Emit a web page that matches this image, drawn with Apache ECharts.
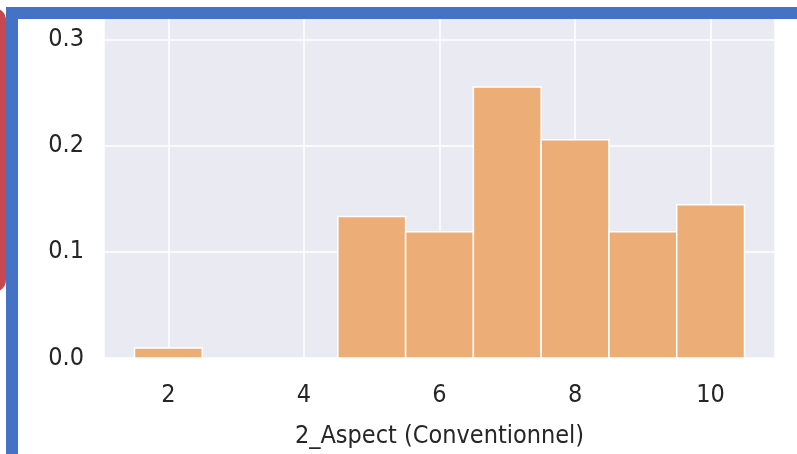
<!DOCTYPE html>
<html>
<head>
<meta charset="utf-8">
<script src="https://cdn.jsdelivr.net/npm/echarts@6/dist/echarts.min.js"></script>
<style>
html,body{margin:0;padding:0;background:#fff;}
#c{width:797px;height:454px;}
</style>
</head>
<body>
<div id="c"></div>
<script>
// Histogram data (bin centers and density heights)
var binCenters = [2, 3, 4, 5, 6, 7, 8, 9, 10];
var densities = [0.0095, 0, 0, 0.1335, 0.119, 0.2555, 0.2057, 0.119, 0.1445];
var binWidth = 1;
var yTicks = [0.0, 0.1, 0.2, 0.3];
var xTicks = [2, 4, 6, 8, 10];
var xLabel = '2_Aspect (Conventionnel)';

var FONT = '"Liberation Sans Narrow", "DejaVu Sans Condensed", "Liberation Sans", sans-serif';

var data = binCenters.map(function (c, i) { return [c, densities[i]]; });

var chart = echarts.init(document.getElementById('c'), null, {renderer: 'canvas'});
chart.setOption({
  backgroundColor: '#ffffff',
  animation: false,
  grid: {left: 104, right: 22, top: 8, bottom: 96, show: true, backgroundColor: '#EAEAF2', borderWidth: 0,
         containLabel: false, outerBoundsMode: 'none'},
  xAxis: {
    type: 'value', min: 1.05, max: 10.95, splitNumber: 5,
    axisLine: {show: false}, axisTick: {show: false},
    splitLine: {show: true, lineStyle: {color: '#ffffff', width: 1.5}},
    axisLabel: {
      showMinLabel: false, showMaxLabel: false, margin: 25,
      color: '#262626', fontFamily: FONT, fontSize: 25,
      formatter: function (v) { return xTicks.indexOf(v) >= 0 ? String(v) : ''; }
    },
    name: xLabel, nameLocation: 'middle', nameGap: 66,
    nameTextStyle: {color: '#262626', fontFamily: FONT, fontSize: 25}
  },
  yAxis: {
    type: 'value', min: 0, max: 0.33, interval: 0.1,
    axisLine: {show: false}, axisTick: {show: false},
    splitLine: {show: true, lineStyle: {color: '#ffffff', width: 1.5}},
    axisLabel: {
      showMaxLabel: false, margin: 20,
      color: '#262626', fontFamily: FONT, fontSize: 25,
      formatter: function (v) { return yTicks.indexOf(Math.round(v * 10) / 10) >= 0 ? v.toFixed(1) : ''; }
    }
  },
  series: [{
    type: 'custom',
    data: data,
    renderItem: function (params, api) {
      var c = api.value(0), h = api.value(1);
      if (h <= 0) return null;
      var p0 = api.coord([c - binWidth / 2, h]);
      var p1 = api.coord([c + binWidth / 2, 0]);
      return {
        type: 'rect',
        shape: {x: p0[0], y: p0[1], width: p1[0] - p0[0], height: p1[1] - p0[1]},
        style: {fill: '#ECAD76', stroke: '#ffffff', lineWidth: 1.5}
      };
    },
    encode: {x: 0, y: 1}
  }],
  graphic: [
    {type: 'rect', z: 100, shape: {x: -30, y: 8, width: 36, height: 284, r: 12}, style: {fill: '#C84850'}},
    {type: 'rect', z: 101, shape: {x: 6, y: 7, width: 791, height: 12}, style: {fill: '#4472C4'}},
    {type: 'rect', z: 101, shape: {x: 6, y: 7, width: 12, height: 447}, style: {fill: '#4472C4'}}
  ]
});
</script>
</body>
</html>
